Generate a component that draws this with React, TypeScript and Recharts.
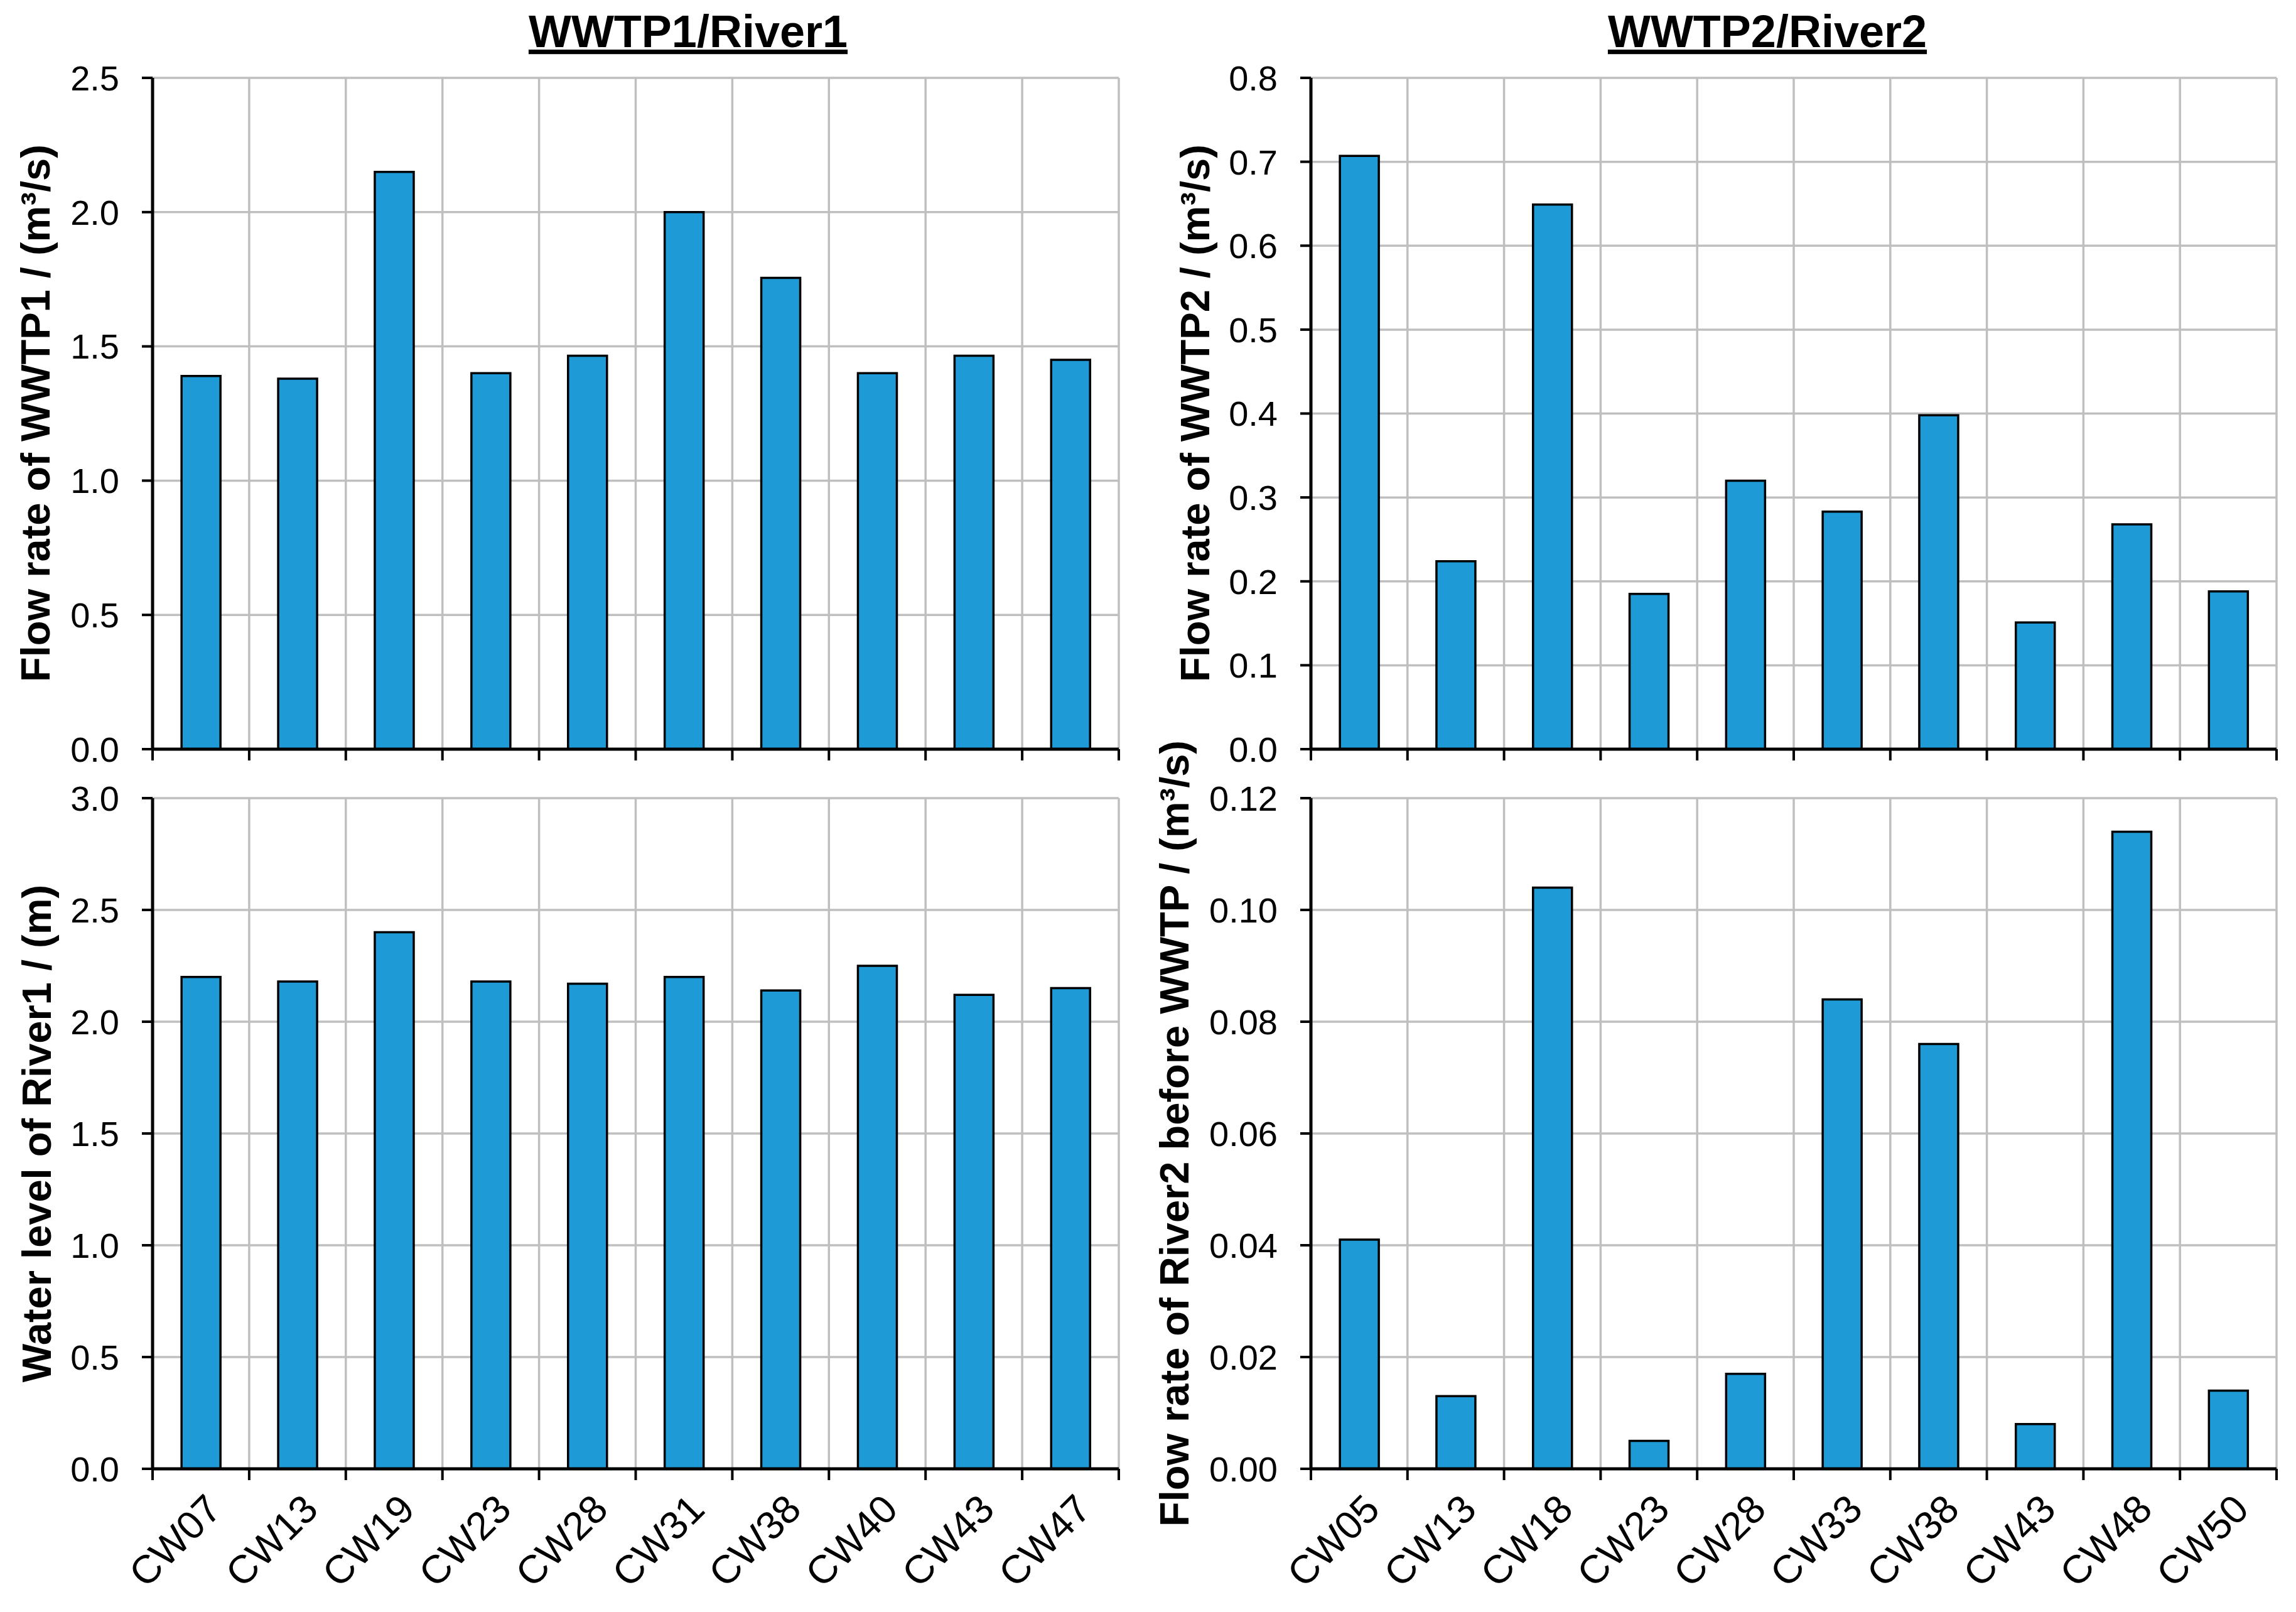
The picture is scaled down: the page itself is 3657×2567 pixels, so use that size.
import { BarChart, Bar, XAxis, YAxis, CartesianGrid } from "recharts";

const river1Sites = ["CW07", "CW13", "CW19", "CW23", "CW28", "CW31", "CW38", "CW40", "CW43", "CW47"];
const river2Sites = ["CW05", "CW13", "CW18", "CW23", "CW28", "CW33", "CW38", "CW43", "CW48", "CW50"];

const wwtp1Flow = [1.39, 1.38, 2.15, 1.4, 1.465, 2.0, 1.755, 1.4, 1.465, 1.45];
const river1Level = [2.2, 2.18, 2.4, 2.18, 2.17, 2.2, 2.14, 2.25, 2.12, 2.15];
const wwtp2Flow = [0.707, 0.224, 0.649, 0.185, 0.32, 0.283, 0.398, 0.151, 0.268, 0.188];
const river2Flow = [0.041, 0.013, 0.104, 0.005, 0.017, 0.084, 0.076, 0.008, 0.114, 0.014];

const wwtp1Ticks = [0, 0.5, 1.0, 1.5, 2.0, 2.5];
const river1Ticks = [0, 0.5, 1.0, 1.5, 2.0, 2.5, 3.0];
const wwtp2Ticks = [0, 0.1, 0.2, 0.3, 0.4, 0.5, 0.6, 0.7, 0.8];
const river2Ticks = [0, 0.02, 0.04, 0.06, 0.08, 0.1, 0.12];

const FONT = "'Liberation Sans', Arial, sans-serif";
const BLUE = "#1E9BD7";
const GRID = "#BFBFBF";

type PanelProps = {
  cats: string[];
  values: number[];
  ticks: number[];
  decimals: number;
  showLabels: boolean;
  left: number;
  top: number;
  width: number;
  height: number;
  yWidth: number;
  mTop: number;
  mRight: number;
  xHeight: number;
};

function Panel(p: PanelProps) {
  const data = p.cats.map((c, i) => ({ cat: c, v: p.values[i] }));
  const n = p.cats.length;
  const plotW = p.width - p.yWidth - p.mRight;
  const half = plotW / n / 2;

  const CatTick = (props: any) => {
    const { x, y, payload, index } = props;
    const lx = x + 36;
    const ly = y + 68;
    return (
      <g>
        <line x1={x - half} y1={y} x2={x - half} y2={y + 18} stroke="#000" strokeWidth={4} />
        {index === n - 1 && <line x1={x + half} y1={y} x2={x + half} y2={y + 18} stroke="#000" strokeWidth={4} />}
        {p.showLabels && (
          <text x={lx} y={ly} transform={`rotate(-45, ${lx}, ${ly})`} textAnchor="end" fontSize={63} fontFamily={FONT} fill="#000">
            {payload.value}
          </text>
        )}
      </g>
    );
  };

  return (
    <div style={{ position: "absolute", left: p.left, top: p.top }}>
      <BarChart
        width={p.width}
        height={p.height}
        data={data}
        margin={{ top: p.mTop, right: p.mRight, bottom: 0, left: 0 }}
        barCategoryGap="30%"
      >
        <CartesianGrid
          xAxisId="main"
          yAxisId="main"
          stroke={GRID}
          strokeWidth={3.5}
          verticalCoordinatesGenerator={({ offset }: any) =>
            Array.from({ length: n + 1 }, (_, i) => offset.left + (i * offset.width) / n)
          }
        />
        <XAxis
          xAxisId="main"
          dataKey="cat"
          height={p.xHeight}
          interval={0}
          tickSize={0}
          tickMargin={0}
          tickLine={false}
          axisLine={{ stroke: "#000", strokeWidth: 5 }}
          tick={<CatTick />}
        />
        <XAxis
          xAxisId="top"
          orientation="top"
          dataKey="cat"
          height={0}
          tick={false}
          tickLine={false}
          axisLine={{ stroke: "#000", strokeWidth: 4 }}
        />
        <YAxis
          yAxisId="main"
          width={p.yWidth}
          domain={[0, p.ticks[p.ticks.length - 1]]}
          ticks={p.ticks}
          interval={0}
          tickSize={17}
          tickMargin={36}
          tickFormatter={(v: number) => v.toFixed(p.decimals)}
          tick={{ fontSize: 56, fill: "#000", fontFamily: FONT }}
          tickLine={{ stroke: "#000", strokeWidth: 4 }}
          axisLine={{ stroke: "#000", strokeWidth: 5 }}
        />
        <YAxis
          yAxisId="right"
          orientation="right"
          width={0}
          domain={[0, p.ticks[p.ticks.length - 1]]}
          ticks={p.ticks}
          tick={false}
          tickLine={false}
          axisLine={{ stroke: "#000", strokeWidth: 4 }}
        />
        <Bar
          xAxisId="main"
          yAxisId="main"
          dataKey="v"
          fill={BLUE}
          stroke="#000"
          strokeWidth={3.5}
          isAnimationActive={false}
        />
      </BarChart>
    </div>
  );
}

export default function App() {
  const labelStyle = { fontFamily: FONT, fontWeight: 700, fontSize: 65, fill: "#000" } as const;
  return (
    <div style={{ position: "absolute", left: 0, top: 0, width: 3657, height: 2567, background: "#fff", overflow: "hidden" }}>
      <Panel cats={river1Sites} values={wwtp1Flow} ticks={wwtp1Ticks} decimals={1} showLabels={false}
        left={0} top={0} width={1800} height={1232} yWidth={243} mTop={124} mRight={18} xHeight={39} />
      <Panel cats={river2Sites} values={wwtp2Flow} ticks={wwtp2Ticks} decimals={1} showLabels={false}
        left={1800} top={0} width={1857} height={1232} yWidth={288} mTop={124} mRight={31} xHeight={39} />
      <Panel cats={river1Sites} values={river1Level} ticks={river1Ticks} decimals={1} showLabels={true}
        left={0} top={1232} width={1800} height={1331} yWidth={243} mTop={39} mRight={18} xHeight={224} />
      <Panel cats={river2Sites} values={river2Flow} ticks={river2Ticks} decimals={2} showLabels={true}
        left={1800} top={1232} width={1857} height={1331} yWidth={288} mTop={39} mRight={31} xHeight={224} />
      <svg width={3657} height={2567} style={{ position: "absolute", left: 0, top: 0, pointerEvents: "none" }}>
        <text x={1096} y={75} textAnchor="middle" fontFamily={FONT} fontWeight={700} fontSize={72} textDecoration="underline">
          WWTP1/River1
        </text>
        <text x={2815} y={75} textAnchor="middle" fontFamily={FONT} fontWeight={700} fontSize={72} textDecoration="underline">
          WWTP2/River2
        </text>
        <text {...labelStyle} x={56} y={658} textAnchor="middle" dominantBaseline="central" transform="rotate(-90, 56, 658)">
          Flow rate of WWTP1 / (m³/s)
        </text>
        <text {...labelStyle} x={58} y={1805} textAnchor="middle" dominantBaseline="central" transform="rotate(-90, 58, 1805)">
          Water level of River1 / (m)
        </text>
        <text {...labelStyle} x={1903} y={658} textAnchor="middle" dominantBaseline="central" transform="rotate(-90, 1903, 658)">
          Flow rate of WWTP2 / (m³/s)
        </text>
        <text {...labelStyle} x={1870} y={1805} textAnchor="middle" dominantBaseline="central" transform="rotate(-90, 1870, 1805)">
          Flow rate of River2 before WWTP / (m³/s)
        </text>
      </svg>
    </div>
  );
}
